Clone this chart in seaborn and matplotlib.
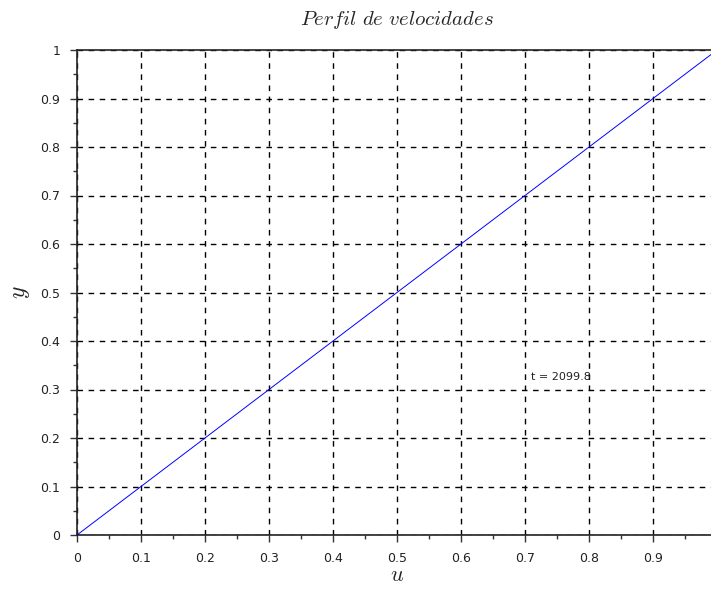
import numpy as np
import pandas as pd
import matplotlib
matplotlib.use("Agg")
import matplotlib.pyplot as plt
import seaborn as sns
from matplotlib.ticker import MultipleLocator

u_vals = [0.0, 0.1, 0.2, 0.3, 0.4, 0.5, 0.6, 0.7, 0.8, 0.9, 1.0]
y_vals = [0.0, 0.1, 0.2, 0.3, 0.4, 0.5, 0.6, 0.7, 0.8, 0.9, 1.0]
x_ticks = [0, 0.1, 0.2, 0.3, 0.4, 0.5, 0.6, 0.7, 0.8, 0.9]
x_tick_labels = ["0", "0.1", "0.2", "0.3", "0.4", "0.5", "0.6", "0.7", "0.8", "0.9"]
y_ticks = [0, 0.1, 0.2, 0.3, 0.4, 0.5, 0.6, 0.7, 0.8, 0.9, 1.0]
y_tick_labels = ["0", "0.1", "0.2", "0.3", "0.4", "0.5", "0.6", "0.7", "0.8", "0.9", "1"]
annotation = "t = 2099.8"
annotation_pos = (0.71, 0.325)

sns.set_style("white")
plt.rcParams["font.family"] = ["DejaVu Sans"]
plt.rcParams["mathtext.fontset"] = "cm"

df = pd.DataFrame({"u": u_vals, "y": y_vals})

fig = plt.figure(figsize=(7.11, 5.92), dpi=100)
W, H = 711, 592
left, right, top, bottom = 77, 717, 50, 535
ax = fig.add_axes([left / W, 1 - bottom / H, (right - left) / W, (bottom - top) / H])

sns.lineplot(data=df, x="u", y="y", ax=ax, color="#0000ff", linewidth=0.7)

ax.set_xlim(0, 1)
ax.set_ylim(0, 1)
ax.set_xticks(x_ticks)
ax.set_xticklabels(x_tick_labels)
ax.set_yticks(y_ticks)
ax.set_yticklabels(y_tick_labels)
ax.xaxis.set_minor_locator(MultipleLocator(0.05))
ax.yaxis.set_minor_locator(MultipleLocator(0.05))
ax.tick_params(axis="both", which="both", bottom=True, left=True, top=False, right=False)
ax.tick_params(axis="both", which="major", direction="out", length=5, width=1,
               labelsize=9, colors="#333333", labelcolor="#222222", pad=7)
ax.tick_params(axis="both", which="minor", direction="out", length=3, width=1, colors="#333333")

ax.set_axisbelow(True)
ax.grid(True, which="major", linestyle=(0, (4, 4)), color="black", linewidth=1)
for s in ["left", "bottom", "top"]:
    ax.spines[s].set_color("#222222")
    ax.spines[s].set_linewidth(1.2)
    ax.spines[s].set_zorder(3)
ax.spines["right"].set_visible(False)

ax.text(annotation_pos[0], annotation_pos[1], annotation, fontsize=8, color="#222222",
        ha="left", va="center")

ax.set_xlabel(r"$u$", fontsize=16, labelpad=0)
ax.set_ylabel(r"$y$", fontsize=17, labelpad=6, rotation=90)
fig.text(397 / W, 1 - 20 / H, r"$Perfil\ de\ velocidades$", fontsize=15,
         ha="center", va="center")

fig.savefig("out.png", dpi=100)
